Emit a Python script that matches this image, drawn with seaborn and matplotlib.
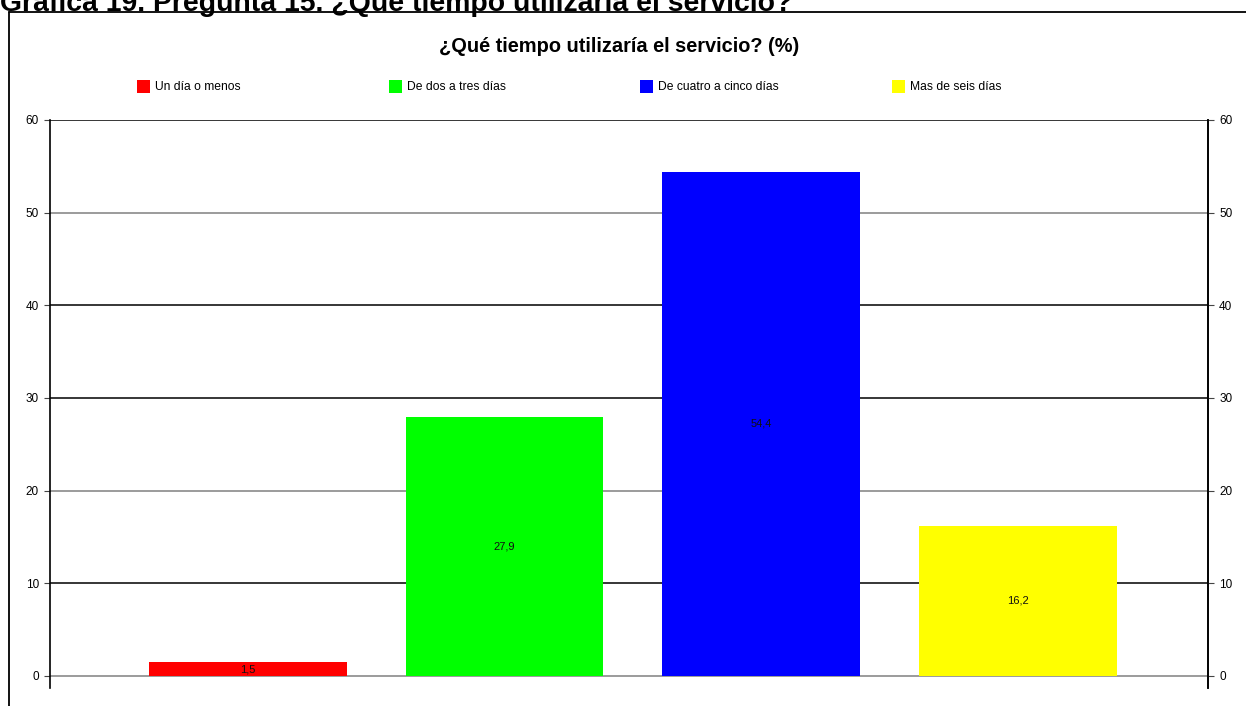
import matplotlib
matplotlib.use("Agg")
import matplotlib.pyplot as plt
from matplotlib.patches import Rectangle
from matplotlib.lines import Line2D
import seaborn as sns
import pandas as pd

# data
categories = ["Un día o menos", "De dos a tres días", "De cuatro a cinco días", "Mas de seis días"]
values = [1.5, 27.9, 54.4, 16.2]
colors = ["#ff0000", "#00ff00", "#0000ff", "#ffff00"]
y_ticks = [0, 10, 20, 30, 40, 50, 60]

page_title = "Grafica 19. Pregunta 15. ¿Qué tiempo utilizaría el servicio?"
chart_title = "¿Qué tiempo utilizaría el servicio? (%)"

sns.set_theme(style="white")
plt.rcParams["font.family"] = ["Liberation Sans", "DejaVu Sans"]

W, H = 1246, 706
fig = plt.figure(figsize=(W / 100, H / 100), dpi=100)

def fx(px):
    return px / W

def fy(py):
    return 1 - py / H

# outer frame (only top/left visible in the crop)
fig.add_artist(Line2D([fx(9), fx(9)], [fy(12), 0], color="black", lw=1.3))
fig.add_artist(Line2D([fx(9), 1], [fy(12), fy(12)], color="black", lw=1.3))

# page heading, cut off at the top edge as in the original scan
fig.text(0.0, fy(11), page_title, fontsize=20.4, fontweight="bold",
         ha="left", va="baseline", color="black")
fig.text(fx(619), fy(47), chart_title, fontsize=14.4, fontweight="bold",
         ha="center", va="center", color="black")

ax = fig.add_axes([fx(50), fy(688), fx(1208) - fx(50), fy(120) - fy(688)])

df = pd.DataFrame({"cat": categories, "val": values})
sns.barplot(data=df, x="cat", y="val", hue="cat", palette=colors,
            saturation=1, width=0.77, linewidth=0, legend=False, ax=ax)

for cont, v in zip(ax.containers, values):
    ax.bar_label(cont, labels=[f"{v:.1f}".replace(".", ",")],
                 label_type="center", fontsize=8, color="#111111")

ax.set_xlim(-0.77, 3.74)
ax.set_ylim(-1.3, 60)
ax.set_xlabel("")
ax.set_ylabel("")
ax.set_xticks([])

grid_colors = ["#808080", "black", "#808080", "black", "black", "#808080", "black"]
for t, c in zip(y_ticks, grid_colors):
    ax.axhline(t, color=c, lw=1.1, zorder=0.5)

for s in ["top", "bottom"]:
    ax.spines[s].set_visible(False)
for s in ["left", "right"]:
    ax.spines[s].set_color("black")
    ax.spines[s].set_linewidth(1.2)

ax.set_yticks(y_ticks)
ax.tick_params(axis="y", left=True, direction="out", length=4, width=0.8,
               color="#444444", labelsize=8.5, labelcolor="black", pad=4)

ax2 = ax.twinx()
ax2.set_ylim(ax.get_ylim())
ax2.set_yticks(y_ticks)
ax2.tick_params(axis="y", right=True, direction="out", length=4, width=0.8,
                color="#444444", labelsize=8.5, labelcolor="black", pad=4)
for s in ["top", "bottom", "left"]:
    ax2.spines[s].set_visible(False)
ax2.spines["right"].set_color("black")
ax2.spines["right"].set_linewidth(1.2)
ax2.grid(False)

# legend row with evenly spaced entries
for i, (lab, col) in enumerate(zip(categories, colors)):
    x0 = 137 + 251.7 * i
    fig.add_artist(Rectangle((fx(x0), fy(93)), fx(13), fy(80) - fy(93),
                             facecolor=col, edgecolor="none"))
    fig.text(fx(x0 + 18), fy(86.5), lab, fontsize=8.7, ha="left", va="center",
             color="black")

fig.savefig("out.png", dpi=100)
